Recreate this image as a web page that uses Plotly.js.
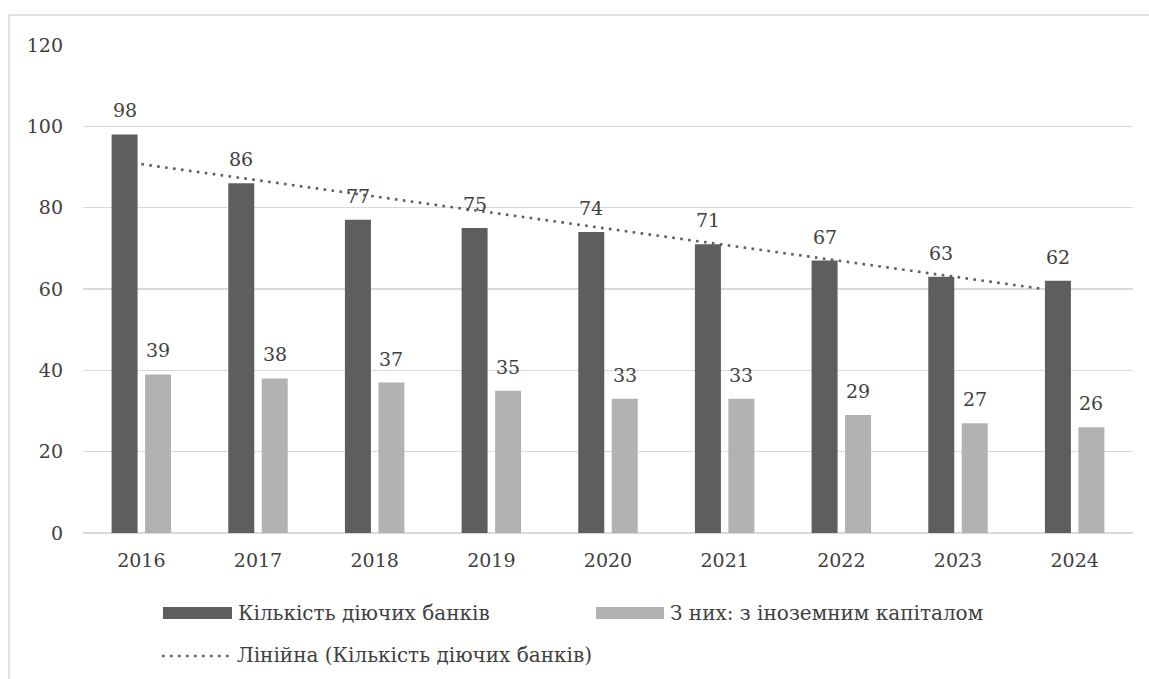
<!DOCTYPE html>
<html>
<head>
<meta charset="utf-8">
<script src="https://cdn.plot.ly/plotly-3.0.1.min.js"></script>
<style>
html,body{margin:0;padding:0;background:#fff;}
#chart{width:1149px;height:679px;}
</style>
</head>
<body>
<div id="chart"></div>
<script>
const years = [2016, 2017, 2018, 2019, 2020, 2021, 2022, 2023, 2024];
const yearLabels = ['2016','2017','2018','2019','2020','2021','2022','2023','2024'];
const totalBanks = [98, 86, 77, 75, 74, 71, 67, 63, 62];
const foreignBanks = [39, 38, 37, 35, 33, 33, 29, 27, 26];
const seriesNames = ['Кількість діючих банків', 'З них: з іноземним капіталом', 'Лінійна (Кількість діючих банків)'];
// trend line endpoints (year position, value)
const trendX = [2016, 2023.73];
const trendY = [90.7, 60.0];
const yTicks = [0, 20, 40, 60, 80, 100, 120];

const FONT = 'DejaVu Serif';
const NUM_SIZE = 19;
const LEG_SIZE = 20;
const TXT = '#404040';
const DARK = '#5e5e5e';
const LIGHT = '#b2b2b2';
const GRID = '#d9d9d9';

const L = 83, R = 1133, T = 45, B = 533;
const W = R - L, H = B - T;
const px = x => (x - L) / W;
const py = y => (B - y) / H;

const traces = [
  {type:'bar', x: years, y: totalBanks, name: seriesNames[0], marker:{color: DARK}},
  {type:'bar', x: years, y: foreignBanks, name: seriesNames[1], marker:{color: LIGHT}},
  {type:'scatter', mode:'lines', x: trendX, y: trendY, name: seriesNames[2],
   line:{color: DARK, width: 2.6, dash: '2.6px,5.4px'}}
];

const annotations = [];
const off = 16.75;
years.forEach((yr, i) => {
  annotations.push({x: yr, y: totalBanks[i], xref:'x', yref:'y', text: String(totalBanks[i]),
    showarrow:false, xanchor:'center', yanchor:'bottom', xshift: -off, yshift: 11,
    font:{family: FONT, size: NUM_SIZE, color: TXT}});
  annotations.push({x: yr, y: foreignBanks[i], xref:'x', yref:'y', text: String(foreignBanks[i]),
    showarrow:false, xanchor:'center', yanchor:'bottom', xshift: off, yshift: 11,
    font:{family: FONT, size: NUM_SIZE, color: TXT}});
});
annotations.push({xref:'paper', yref:'paper', x: px(236), y: py(613), xanchor:'left', yanchor:'middle',
  text: seriesNames[0], showarrow:false, font:{family: FONT, size: LEG_SIZE, color: TXT}});
annotations.push({xref:'paper', yref:'paper', x: px(668), y: py(613), xanchor:'left', yanchor:'middle',
  text: seriesNames[1], showarrow:false, font:{family: FONT, size: LEG_SIZE, color: TXT}});
annotations.push({xref:'paper', yref:'paper', x: px(235), y: py(655), xanchor:'left', yanchor:'middle',
  text: seriesNames[2], showarrow:false, font:{family: FONT, size: LEG_SIZE, color: TXT}});

const shapes = [
  {type:'line', xref:'paper', yref:'paper', x0: px(9), x1: px(1152), y0: py(15), y1: py(15),
   line:{color: GRID, width: 1.5}, layer:'below'},
  {type:'line', xref:'paper', yref:'paper', x0: px(9), x1: px(9), y0: py(15), y1: py(682),
   line:{color: GRID, width: 1.5}, layer:'below'},
  {type:'rect', xref:'paper', yref:'paper', x0: px(163), x1: px(232), y0: py(607), y1: py(619),
   fillcolor: DARK, line:{width:0}},
  {type:'rect', xref:'paper', yref:'paper', x0: px(596), x1: px(664), y0: py(607), y1: py(619),
   fillcolor: LIGHT, line:{width:0}},
  {type:'line', xref:'paper', yref:'paper', x0: px(162), x1: px(229), y0: py(656), y1: py(656),
   line:{color: DARK, width: 2.6, dash: '2.6px,5.4px'}}
];

const layout = {
  width: 1149, height: 679,
  margin: {l: L, r: 1149 - R, t: T, b: 679 - B, pad: 0},
  paper_bgcolor: '#fff', plot_bgcolor: '#fff',
  barmode: 'group', bargap: 0.426, bargroupgap: 0.224,
  showlegend: false,
  font: {family: FONT, size: NUM_SIZE, color: TXT},
  xaxis: {type:'linear', range:[2015.5, 2024.5], tickvals: years, ticktext: yearLabels,
    showgrid:false, zeroline:false, showline:false, ticks:'',
    ticklabelstandoff: 14, tickfont:{family: FONT, size: NUM_SIZE, color: TXT}, fixedrange:true},
  yaxis: {range:[0, 120], tickvals: yTicks, showgrid:true, gridcolor: GRID, gridwidth: 1.5,
    zeroline:true, zerolinecolor: GRID, zerolinewidth: 1.5, showline:false, ticks:'',
    ticklabelstandoff: 19, tickfont:{family: FONT, size: NUM_SIZE, color: TXT}, fixedrange:true},
  annotations: annotations,
  shapes: shapes
};

Plotly.newPlot('chart', traces, layout, {displayModeBar:false, staticPlot:true});
</script>
</body>
</html>
